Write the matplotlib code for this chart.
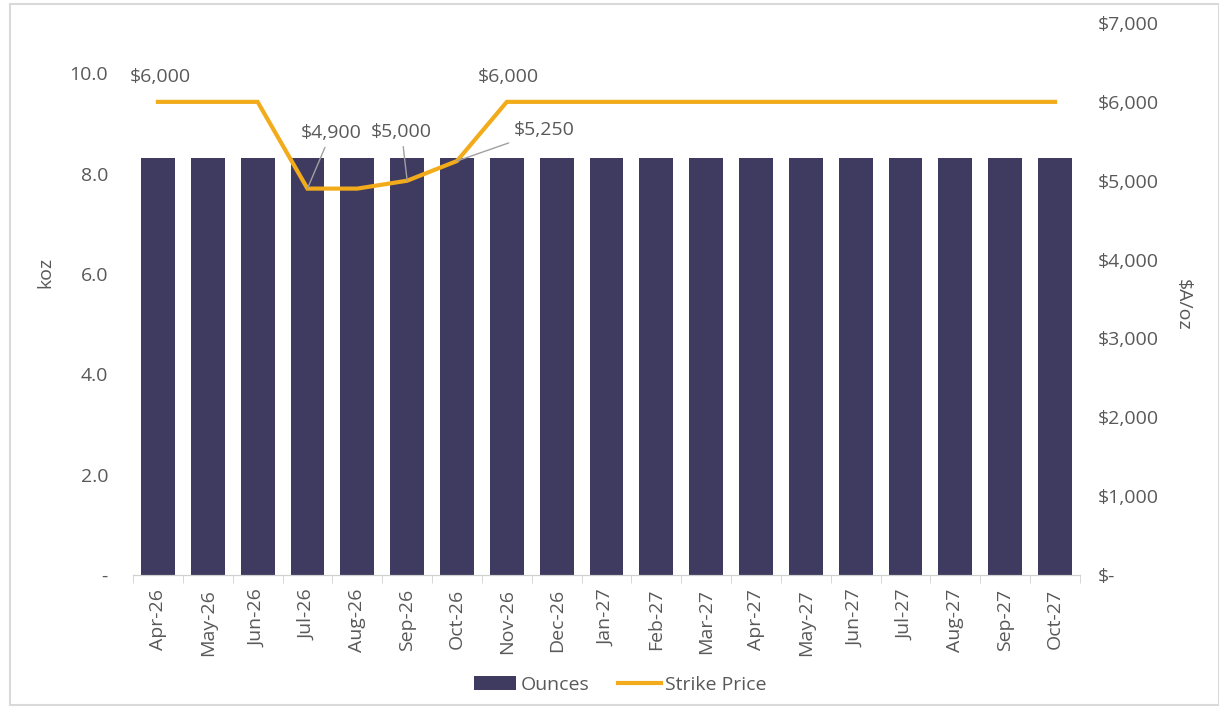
import matplotlib.pyplot as plt
import matplotlib.ticker as mticker
from matplotlib.patches import Rectangle
import numpy as np

plt.rcParams['font.family'] = ['Open Sans', 'DejaVu Sans']

months = ['Apr-26', 'May-26', 'Jun-26', 'Jul-26', 'Aug-26', 'Sep-26', 'Oct-26',
          'Nov-26', 'Dec-26', 'Jan-27', 'Feb-27', 'Mar-27', 'Apr-27', 'May-27',
          'Jun-27', 'Jul-27', 'Aug-27', 'Sep-27', 'Oct-27']
ounces = [8.3] * 19
strike = [6000, 6000, 6000, 4900, 4900, 5000, 5250] + [6000] * 12

# which points carry a label, and where the label sits (offset points)
label_idx = [0, 3, 5, 6, 7]
label_off = [(2, 18), (17, 40), (-4, 35), (63, 22), (1, 18)]
leader = [False, True, True, True, False]

bar_col = '#3F3A60'
line_col = '#F2AC1B'
txt_col = '#595959'
fs = 14

fig = plt.figure(figsize=(12.19, 7.15), dpi=100)
ax = fig.add_axes([133 / 1219, 1 - 575 / 715, (1080 - 133) / 1219, (575 - 23) / 715])
ax2 = ax.twinx()

x = np.arange(len(months))
bars = ax.bar(x, ounces, width=0.68, color=bar_col, label='Ounces', zorder=2)
line, = ax2.plot(x, strike, color=line_col, lw=3, label='Strike Price',
                 solid_joinstyle='miter', zorder=3)

ax.set_xlim(-0.5, len(months) - 0.5)
ax.set_ylim(0, 11)
ax.set_yticks([0, 2, 4, 6, 8, 10])
ax.yaxis.set_major_formatter(mticker.FuncFormatter(lambda v, p: '-' if v == 0 else f'{v:.1f}'))
ax2.set_ylim(0, 7000)
ax2.set_yticks(np.arange(0, 7001, 1000))
ax2.yaxis.set_major_formatter(mticker.FuncFormatter(lambda v, p: '$-' if v == 0 else f'${v:,.0f}'))

ax.set_xticks(x)
ax.set_xticklabels(months, rotation=90)
ax.set_xticks(np.arange(-0.5, len(months), 1), minor=True)
ax.tick_params(axis='x', which='major', length=0, pad=10, labelsize=fs, labelcolor=txt_col)
ax.tick_params(axis='x', which='minor', length=6, color='#d0d0d0')
ax.tick_params(axis='y', length=0, pad=18, labelsize=fs, labelcolor=txt_col)
ax2.tick_params(axis='y', length=0, pad=13, labelsize=fs, labelcolor=txt_col)

for a in (ax, ax2):
    for s in ['top', 'left', 'right']:
        a.spines[s].set_visible(False)
    a.spines['bottom'].set_color('#d0d0d0')

ax.set_ylabel('koz', fontsize=fs, color=txt_col)
ax.yaxis.set_label_coords(-0.083, 0.549)
ax2.set_ylabel('$A/oz', fontsize=fs, color=txt_col, rotation=270, va='center')
ax2.yaxis.set_label_coords(1.109, 0.489)

for i, off, ld in zip(label_idx, label_off, leader):
    ap = dict(arrowstyle='-', color='#a0a0a0', lw=1, shrinkA=2, shrinkB=0) if ld else None
    ax2.annotate(f'${strike[i]:,}', xy=(x[i], strike[i]), xytext=off,
                 textcoords='offset points', ha='center', va='center',
                 fontsize=fs, color=txt_col, arrowprops=ap)

fig.legend([bars, line], ['Ounces', 'Strike Price'], loc='center',
           bbox_to_anchor=(620 / 1219, 1 - 685 / 715), ncol=2, frameon=False,
           fontsize=fs, labelcolor=txt_col, handlelength=2.2, handletextpad=0.2,
           columnspacing=1.5)

fig.patches.append(Rectangle((10 / 1219, 1 - 705 / 715), 1 - 10 / 1219, 701 / 715,
                             transform=fig.transFigure, fill=False,
                             edgecolor='#d9d9d9', lw=1.5))

fig.savefig('out.png', dpi=100)
